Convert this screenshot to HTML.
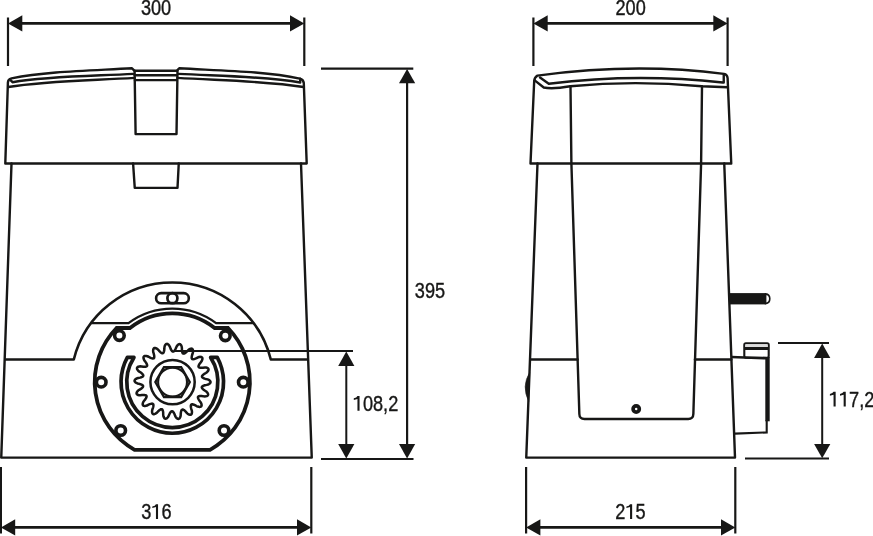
<!DOCTYPE html>
<html><head><meta charset="utf-8"><title>Dimensions</title>
<style>html,body{margin:0;padding:0;background:#fff;}svg{display:block;}text{will-change:transform;}text{font-family:"Liberation Sans",sans-serif;}</style>
</head><body>
<svg width="873" height="536" viewBox="0 0 873 536">
<rect width="873" height="536" fill="#ffffff"/>
<g fill="none" stroke="#171716" stroke-width="2.4" stroke-linejoin="round" stroke-linecap="round">
<path d="M5.3,163.5 L7.9,82.5 Q8.1,79.2 11.5,78.4 C46.5,71.4 87,70.8 132,68.3 L134.6,70.8 L176.6,70.8 L179.2,68.3 C225,70.8 265.5,71.4 299.8,78.6 Q303.4,79.4 303.8,83 L306.7,163.5 Z"/>
<path d="M10.5,80.2 L12.5,82.2 C47.5,76.25 88.4,76.15 133.4,73.9"/>
<path d="M134.8,75.2 L176.4,75.2"/>
<path d="M178.6,73.9 C223.6,76.15 264.5,76.25 300.2,82.5 L300.2,78.6"/>
<path d="M8.2,87 C46.2,80.9 89.6,80.6 134.6,77.9"/>
<path d="M134.9,80.1 L176.3,80.1"/>
<path d="M177.4,77.9 C222.4,80.6 265.8,80.9 303.6,87"/>
<path d="M134.6,70.6 L135.6,134.1 L176.5,134.1 L177.5,70.6"/>
<path d="M133.1,163.5 L134.75,187.9 L177.5,187.9 L178.75,163.5"/>
<path d="M11.5,163.5 L1.25,457.6 L311.75,457.6 L301,163.5"/>
</g>
<g fill="none" stroke="#171716" stroke-width="2.6" stroke-linejoin="round" stroke-linecap="butt">
<path d="M4.7,359.5 L73.80,359.5 A101.5,101.5 0 0 1 270.80,359.5 L308.2,359.5"/>
<path d="M91.03,323.2 L128.53,323.2 A73.3,73.3 0 0 1 216.07,323.2 L253.57,323.2" stroke-width="2.3"/>
</g>
<g fill="none" stroke="#171716" stroke-width="2.6">
<rect x="156.1" y="293.1" width="32.7" height="10.1" rx="5.05" ry="5.05"/>
<circle cx="172.4" cy="298.15" r="5.0" stroke-width="2.7"/>
</g>
<g fill="none" stroke="#171716" stroke-width="3.8" stroke-linejoin="miter">
<path d="M129.99,328.0 A68.6,68.6 0 0 1 214.61,328.0 L228.03,328.0 A77.6,77.6 0 0 1 210.05,449.8 L134.55,449.8 A77.6,77.6 0 0 1 116.57,328.0 Z"/>
<circle cx="101.2" cy="382.2" r="4.8" stroke-width="3.6" fill="#fff"/>
<circle cx="243.3" cy="382.2" r="4.8" stroke-width="3.6" fill="#fff"/>
<circle cx="119.4" cy="335.6" r="4.8" stroke-width="3.6" fill="#fff"/>
<circle cx="225.3" cy="335.8" r="4.8" stroke-width="3.6" fill="#fff"/>
<circle cx="120.7" cy="430.5" r="4.8" stroke-width="3.6" fill="#fff"/>
<circle cx="224.0" cy="430.5" r="4.8" stroke-width="3.6" fill="#fff"/>
</g>
<path d="M127.34,357.40 A51.25,51.25 0 1 0 217.26,357.40 L210.64,357.40 A45.55,45.55 0 1 1 133.96,357.40 Z" fill="none" stroke="#171716" stroke-width="3.7" stroke-linejoin="round"/>
<path d="M172.55,351.45 L172.98,351.60 L173.42,351.55 L173.86,351.29 L174.33,350.83 L174.82,350.18 L175.36,349.32 L175.95,348.12 L176.63,346.48 L177.27,345.54 L177.90,344.86 L178.52,344.39 L179.12,344.13 L179.69,344.08 L180.22,344.25 L180.70,344.63 L181.12,345.22 L181.48,346.01 L181.76,347.01 L181.92,348.35 L181.91,350.13 L182.06,351.23 L182.26,352.10 L182.50,352.77 L182.79,353.25 L183.15,353.54 L183.58,353.64 L184.08,353.55 L184.68,353.29 L185.36,352.84 L186.16,352.22 L187.13,351.29 L188.33,349.98 L189.25,349.32 L190.08,348.89 L190.82,348.66 L191.47,348.62 L192.02,348.77 L192.46,349.11 L192.78,349.64 L192.98,350.34 L193.05,351.20 L192.97,352.24 L192.66,353.55 L192.04,355.22 L191.81,356.30 L191.69,357.19 L191.69,357.90 L191.80,358.46 L192.04,358.85 L192.41,359.09 L192.91,359.18 L193.56,359.13 L194.36,358.95 L195.32,358.63 L196.55,358.09 L198.13,357.27 L199.22,356.97 L200.14,356.85 L200.92,356.88 L201.54,357.07 L202.01,357.40 L202.30,357.87 L202.43,358.47 L202.37,359.20 L202.14,360.03 L201.71,360.98 L200.97,362.11 L199.82,363.47 L199.23,364.40 L198.82,365.20 L198.57,365.87 L198.49,366.42 L198.58,366.87 L198.84,367.22 L199.28,367.48 L199.91,367.66 L200.72,367.76 L201.73,367.79 L203.07,367.71 L204.84,367.47 L205.96,367.56 L206.87,367.76 L207.59,368.07 L208.12,368.46 L208.44,368.93 L208.56,369.47 L208.47,370.08 L208.17,370.74 L207.66,371.44 L206.94,372.19 L205.85,372.99 L204.31,373.87 L203.43,374.55 L202.78,375.16 L202.32,375.70 L202.05,376.20 L201.97,376.65 L202.10,377.07 L202.43,377.47 L202.96,377.85 L203.69,378.22 L204.63,378.59 L205.91,378.97 L207.65,379.36 L208.68,379.82 L209.47,380.33 L210.04,380.85 L210.40,381.40 L210.54,381.95 L210.47,382.50 L210.17,383.04 L209.67,383.56 L208.95,384.05 L208.01,384.50 L206.72,384.89 L204.97,385.19 L203.91,385.53 L203.09,385.87 L202.47,386.23 L202.05,386.60 L201.82,387.00 L201.80,387.44 L201.98,387.92 L202.34,388.46 L202.90,389.06 L203.65,389.73 L204.73,390.53 L206.24,391.48 L207.04,392.28 L207.61,393.02 L207.96,393.71 L208.12,394.34 L208.06,394.91 L207.80,395.40 L207.34,395.81 L206.69,396.13 L205.85,396.34 L204.81,396.44 L203.47,396.37 L201.72,396.05 L200.61,396.01 L199.72,396.05 L199.01,396.17 L198.49,396.38 L198.14,396.68 L197.97,397.08 L197.97,397.59 L198.13,398.23 L198.45,398.98 L198.93,399.87 L199.67,400.98 L200.75,402.40 L201.24,403.42 L201.52,404.31 L201.62,405.08 L201.54,405.73 L201.30,406.24 L200.89,406.62 L200.32,406.84 L199.59,406.92 L198.73,406.83 L197.72,406.57 L196.48,406.04 L194.95,405.14 L193.92,404.72 L193.07,404.46 L192.37,404.33 L191.80,404.34 L191.37,404.51 L191.07,404.83 L190.90,405.31 L190.83,405.96 L190.87,406.78 L191.02,407.78 L191.34,409.08 L191.87,410.78 L191.98,411.90 L191.94,412.83 L191.77,413.59 L191.47,414.18 L191.07,414.58 L190.55,414.79 L189.94,414.80 L189.24,414.63 L188.45,414.25 L187.59,413.66 L186.61,412.74 L185.48,411.37 L184.66,410.62 L183.95,410.09 L183.33,409.73 L182.79,409.55 L182.34,409.55 L181.94,409.75 L181.61,410.14 L181.33,410.73 L181.09,411.51 L180.88,412.50 L180.74,413.83 L180.66,415.61 L180.38,416.71 L180.02,417.57 L179.60,418.22 L179.12,418.67 L178.60,418.91 L178.05,418.93 L177.47,418.74 L176.87,418.33 L176.26,417.71 L175.65,416.86 L175.05,415.66 L174.45,413.98 L173.93,413.00 L173.45,412.25 L172.99,411.70 L172.55,411.35 L172.12,411.20 L171.68,411.25 L171.24,411.51 L170.77,411.97 L170.28,412.62 L169.74,413.48 L169.15,414.68 L168.47,416.32 L167.83,417.26 L167.20,417.94 L166.58,418.41 L165.98,418.67 L165.41,418.72 L164.88,418.55 L164.40,418.17 L163.98,417.58 L163.62,416.79 L163.34,415.79 L163.18,414.45 L163.19,412.67 L163.04,411.57 L162.84,410.70 L162.60,410.03 L162.31,409.55 L161.95,409.26 L161.52,409.16 L161.02,409.25 L160.42,409.51 L159.74,409.96 L158.94,410.58 L157.97,411.51 L156.77,412.82 L155.85,413.48 L155.02,413.91 L154.28,414.14 L153.63,414.18 L153.08,414.03 L152.64,413.69 L152.32,413.16 L152.12,412.46 L152.05,411.60 L152.13,410.56 L152.44,409.25 L153.06,407.58 L153.29,406.50 L153.41,405.61 L153.41,404.90 L153.30,404.34 L153.06,403.95 L152.69,403.71 L152.19,403.62 L151.54,403.67 L150.74,403.85 L149.78,404.17 L148.55,404.71 L146.97,405.53 L145.88,405.83 L144.96,405.95 L144.18,405.92 L143.56,405.73 L143.09,405.40 L142.80,404.93 L142.67,404.33 L142.73,403.60 L142.96,402.77 L143.39,401.82 L144.13,400.69 L145.28,399.33 L145.87,398.40 L146.28,397.60 L146.53,396.93 L146.61,396.38 L146.52,395.93 L146.26,395.58 L145.82,395.32 L145.19,395.14 L144.38,395.04 L143.37,395.01 L142.03,395.09 L140.26,395.33 L139.14,395.24 L138.23,395.04 L137.51,394.73 L136.98,394.34 L136.66,393.87 L136.54,393.33 L136.63,392.72 L136.93,392.06 L137.44,391.36 L138.16,390.61 L139.25,389.81 L140.79,388.93 L141.67,388.25 L142.32,387.64 L142.78,387.10 L143.05,386.60 L143.13,386.15 L143.00,385.73 L142.67,385.33 L142.14,384.95 L141.41,384.58 L140.47,384.21 L139.19,383.83 L137.45,383.44 L136.42,382.98 L135.63,382.47 L135.06,381.95 L134.70,381.40 L134.56,380.85 L134.63,380.30 L134.93,379.76 L135.43,379.24 L136.15,378.75 L137.09,378.30 L138.38,377.91 L140.13,377.61 L141.19,377.27 L142.01,376.93 L142.63,376.57 L143.05,376.20 L143.28,375.80 L143.30,375.36 L143.12,374.88 L142.76,374.34 L142.20,373.74 L141.45,373.07 L140.37,372.27 L138.86,371.32 L138.06,370.52 L137.49,369.78 L137.14,369.09 L136.98,368.46 L137.04,367.89 L137.30,367.40 L137.76,366.99 L138.41,366.67 L139.25,366.46 L140.29,366.36 L141.63,366.43 L143.38,366.75 L144.49,366.79 L145.38,366.75 L146.09,366.63 L146.61,366.42 L146.96,366.12 L147.13,365.72 L147.13,365.21 L146.97,364.57 L146.65,363.82 L146.17,362.93 L145.43,361.82 L144.35,360.40 L143.86,359.38 L143.58,358.49 L143.48,357.72 L143.56,357.07 L143.80,356.56 L144.21,356.18 L144.78,355.96 L145.51,355.88 L146.37,355.97 L147.38,356.23 L148.62,356.76 L150.15,357.66 L151.18,358.08 L152.03,358.34 L152.73,358.47 L153.30,358.46 L153.73,358.29 L154.03,357.97 L154.20,357.49 L154.27,356.84 L154.23,356.02 L154.08,355.02 L153.76,353.72 L153.23,352.02 L153.12,350.90 L153.16,349.97 L153.33,349.21 L153.63,348.62 L154.03,348.22 L154.55,348.01 L155.16,348.00 L155.86,348.17 L156.65,348.55 L157.51,349.14 L158.49,350.06 L159.62,351.43 L160.44,352.18 L161.15,352.71 L161.77,353.07 L162.31,353.25 L162.76,353.25 L163.16,353.05 L163.49,352.66 L163.77,352.07 L164.01,351.29 L164.22,350.30 L164.36,348.97 L164.44,347.19 L164.72,346.09 L165.08,345.23 L165.50,344.58 L165.98,344.13 L166.50,343.89 L167.05,343.87 L167.63,344.06 L168.23,344.47 L168.84,345.09 L169.45,345.94 L170.05,347.14 L170.65,348.82 L171.17,349.80 L171.65,350.55 L172.11,351.10 L172.55,351.45Z" fill="none" stroke="#171716" stroke-width="2.5" stroke-linejoin="round"/>
<circle cx="172.55" cy="382.1" r="22.15" fill="none" stroke="#171716" stroke-width="2.5"/>
<path d="M189.75,382.10 L181.15,397.00 L163.95,397.00 L155.35,382.10 L163.95,367.20 L181.15,367.20Z" fill="none" stroke="#171716" stroke-width="2.3" stroke-linejoin="miter"/>
<circle cx="172.55" cy="382.1" r="14.45" fill="none" stroke="#171716" stroke-width="2.1"/>
<g fill="none" stroke="#171716" stroke-width="2">
<path d="M8,17.5 V66 M304.3,17.5 V66" stroke-width="2.2"/><path d="M20,23.4 H292" stroke-width="2.6"/>
<path d="M0.9,467 V533.4 M311.3,467 V533.4" stroke-width="2.2"/><path d="M12,527.4 H299" stroke-width="2.6"/>
<path d="M321,68.7 H413.3 M321,459 H413.5 M407.1,80 V446" stroke-width="2.2"/>
<path d="M174.5,351 H353 M346.3,363 V446"/>
</g>
<polygon points="8.00,23.40 22.30,15.30 22.30,31.50" fill="#171716"/>
<polygon points="304.30,23.40 290.00,15.30 290.00,31.50" fill="#171716"/>
<polygon points="0.90,527.40 15.20,519.30 15.20,535.50" fill="#171716"/>
<polygon points="311.30,527.40 297.00,519.30 297.00,535.50" fill="#171716"/>
<polygon points="407.10,69.00 399.00,83.30 415.20,83.30" fill="#171716"/>
<polygon points="407.10,458.40 399.00,444.10 415.20,444.10" fill="#171716"/>
<polygon points="346.30,351.60 338.20,365.90 354.40,365.90" fill="#171716"/>
<polygon points="346.30,458.40 338.20,444.10 354.40,444.10" fill="#171716"/>
<text transform="translate(140.90,15.1) scale(0.8447,1)" font-family="Liberation Sans, sans-serif" font-size="21.5" fill="#171716" stroke="#171716" stroke-width="0.4">3</text><text transform="translate(151.00,15.1) scale(0.8447,1)" font-family="Liberation Sans, sans-serif" font-size="21.5" fill="#171716" stroke="#171716" stroke-width="0.4">0</text><text transform="translate(161.10,15.1) scale(0.8447,1)" font-family="Liberation Sans, sans-serif" font-size="21.5" fill="#171716" stroke="#171716" stroke-width="0.4">0</text>
<text transform="translate(141.20,519.0) scale(0.8447,1)" font-family="Liberation Sans, sans-serif" font-size="21.5" fill="#171716" stroke="#171716" stroke-width="0.4">3</text><path d="M155.95,504.21 L158.05,504.21 L158.05,519.00 L155.95,519.00 L155.95,507.11 L152.30,508.11 L152.30,506.51 Q155.30,505.81 155.95,504.21 Z" fill="#171716"/><text transform="translate(161.40,519.0) scale(0.8447,1)" font-family="Liberation Sans, sans-serif" font-size="21.5" fill="#171716" stroke="#171716" stroke-width="0.4">6</text>
<text transform="translate(414.80,297.8) scale(0.8447,1)" font-family="Liberation Sans, sans-serif" font-size="21.5" fill="#171716" stroke="#171716" stroke-width="0.4">3</text><text transform="translate(424.90,297.8) scale(0.8447,1)" font-family="Liberation Sans, sans-serif" font-size="21.5" fill="#171716" stroke="#171716" stroke-width="0.4">9</text><text transform="translate(435.00,297.8) scale(0.8447,1)" font-family="Liberation Sans, sans-serif" font-size="21.5" fill="#171716" stroke="#171716" stroke-width="0.4">5</text>
<path d="M357.45,396.01 L359.55,396.01 L359.55,410.80 L357.45,410.80 L357.45,398.91 L353.80,399.91 L353.80,398.31 Q356.80,397.61 357.45,396.01 Z" fill="#171716"/><text transform="translate(362.90,410.8) scale(0.8447,1)" font-family="Liberation Sans, sans-serif" font-size="21.5" fill="#171716" stroke="#171716" stroke-width="0.4">0</text><text transform="translate(373.00,410.8) scale(0.8447,1)" font-family="Liberation Sans, sans-serif" font-size="21.5" fill="#171716" stroke="#171716" stroke-width="0.4">8</text><text transform="translate(383.10,410.8) scale(0.8447,1)" font-family="Liberation Sans, sans-serif" font-size="21.5" fill="#171716" stroke="#171716" stroke-width="0.4">,</text><text transform="translate(388.15,410.8) scale(0.8447,1)" font-family="Liberation Sans, sans-serif" font-size="21.5" fill="#171716" stroke="#171716" stroke-width="0.4">2</text>
<g fill="none" stroke="#171716" stroke-width="2.4" stroke-linejoin="round" stroke-linecap="round">
<path d="M530.5,163.5 L534.2,81 Q534.4,77.6 537.5,75.6 Q635,62.4 724,73.9 Q727.3,74.5 727.6,78 L731.25,163.5 Z"/>
<path d="M540,77.5 L548.75,83.75 Q635,73.0 722.75,82.5 L723.75,82.5 L723.75,75"/>
<path d="M535,80.6 L543.75,87.5 Q552,89.5 570.4,86.3 Q635,80 701.8,86.3 L727.4,87.3"/>
<path d="M570.5,86.3 L571.4,163.5 L579.35,414 Q579.5,419 584.5,419 L688.2,419 Q693.2,419 693.35,414 L701.1,163.5 L702.0,86.3"/>
<path d="M537.5,163.5 L526.25,457.6 L735,457.6 L724.25,163.5"/>
<path d="M530.1,359.5 L577.6,359.5 M694.9,359.5 L731.4,359.5"/>
<circle cx="636.2" cy="409" r="3.1" stroke-width="3.7"/>
</g>
<path d="M529.7,372.5 Q521.2,386 528.7,401.5 Z" fill="#171716" stroke="#171716" stroke-width="0.6" stroke-linejoin="round"/>
<rect x="729" y="293.1" width="36.6" height="11.3" fill="#171716"/>
<path d="M765.6,293.9 A4.9,4.9 0 0 1 765.6,303.6 Z" fill="#fff" stroke="#171716" stroke-width="1.6"/>
<rect x="744.3" y="343.3" width="24.4" height="14.4" rx="1.6" ry="1.6" fill="#fff" stroke="#171716" stroke-width="2.1" />
<rect x="745.3" y="344.3" width="22.4" height="3" fill="#dcdcdc"/>
<path d="M744.3,348.5 H768.7" stroke="#171716" stroke-width="3" fill="none"/>
<path d="M731.3,357 L766.8,358.3" stroke="#171716" stroke-width="2.6" fill="none"/>
<path d="M767.5,357 V421.3" stroke="#171716" stroke-width="4.4" fill="none"/>
<path d="M766.7,420 V432.4 L735,433.6" stroke="#171716" stroke-width="2.1" fill="none" stroke-linejoin="miter"/>
<g fill="none" stroke="#171716" stroke-width="2">
<path d="M533.4,17.5 V66 M727.6,17.5 V66" stroke-width="2.2"/><path d="M545,23.4 H715" stroke-width="2.6"/>
<path d="M526.1,467 V533.4 M735.3,467 V533.4" stroke-width="2.2"/><path d="M538,527.4 H724" stroke-width="2.6"/>
<path d="M778,343 H829 M745,458.6 H829 M822.2,355 V446"/>
</g>
<polygon points="533.40,23.40 547.70,15.30 547.70,31.50" fill="#171716"/>
<polygon points="727.60,23.40 713.30,15.30 713.30,31.50" fill="#171716"/>
<polygon points="526.10,527.40 540.40,519.30 540.40,535.50" fill="#171716"/>
<polygon points="735.30,527.40 721.00,519.30 721.00,535.50" fill="#171716"/>
<polygon points="822.20,343.60 814.10,357.90 830.30,357.90" fill="#171716"/>
<polygon points="822.20,458.20 814.10,443.90 830.30,443.90" fill="#171716"/>
<text transform="translate(615.50,15.0) scale(0.8447,1)" font-family="Liberation Sans, sans-serif" font-size="21.5" fill="#171716" stroke="#171716" stroke-width="0.4">2</text><text transform="translate(625.60,15.0) scale(0.8447,1)" font-family="Liberation Sans, sans-serif" font-size="21.5" fill="#171716" stroke="#171716" stroke-width="0.4">0</text><text transform="translate(635.70,15.0) scale(0.8447,1)" font-family="Liberation Sans, sans-serif" font-size="21.5" fill="#171716" stroke="#171716" stroke-width="0.4">0</text>
<text transform="translate(615.30,519.0) scale(0.8447,1)" font-family="Liberation Sans, sans-serif" font-size="21.5" fill="#171716" stroke="#171716" stroke-width="0.4">2</text><path d="M630.05,504.21 L632.15,504.21 L632.15,519.00 L630.05,519.00 L630.05,507.11 L626.40,508.11 L626.40,506.51 Q629.40,505.81 630.05,504.21 Z" fill="#171716"/><text transform="translate(635.50,519.0) scale(0.8447,1)" font-family="Liberation Sans, sans-serif" font-size="21.5" fill="#171716" stroke="#171716" stroke-width="0.4">5</text>
<path d="M833.55,391.81 L835.65,391.81 L835.65,406.60 L833.55,406.60 L833.55,394.71 L829.90,395.71 L829.90,394.11 Q832.90,393.41 833.55,391.81 Z" fill="#171716"/><path d="M843.65,391.81 L845.75,391.81 L845.75,406.60 L843.65,406.60 L843.65,394.71 L840.00,395.71 L840.00,394.11 Q843.00,393.41 843.65,391.81 Z" fill="#171716"/><text transform="translate(849.10,406.6) scale(0.8447,1)" font-family="Liberation Sans, sans-serif" font-size="21.5" fill="#171716" stroke="#171716" stroke-width="0.4">7</text><text transform="translate(859.20,406.6) scale(0.8447,1)" font-family="Liberation Sans, sans-serif" font-size="21.5" fill="#171716" stroke="#171716" stroke-width="0.4">,</text><text transform="translate(864.25,406.6) scale(0.8447,1)" font-family="Liberation Sans, sans-serif" font-size="21.5" fill="#171716" stroke="#171716" stroke-width="0.4">2</text>
</svg></body></html>
